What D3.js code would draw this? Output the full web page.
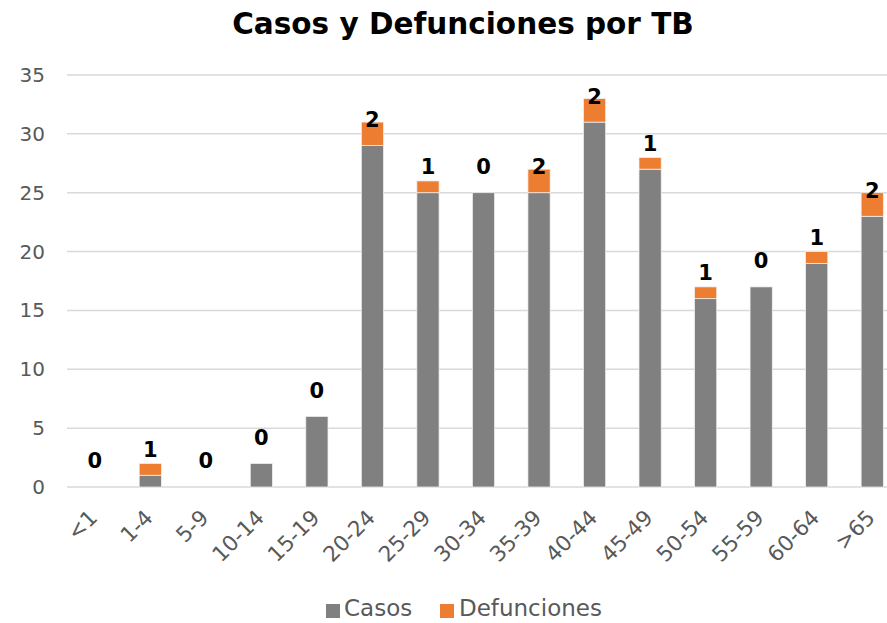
<!DOCTYPE html>
<html>
<head>
<meta charset="utf-8">
<script src="https://cdn.jsdelivr.net/npm/d3@7"></script>
<style>
  body { margin: 0; background: #fff; }
  svg text { font-family: "DejaVu Sans", "Open Sans", sans-serif; }
</style>
</head>
<body>
<svg id="chart"></svg>
<script>
'use strict';
var categories = ['<1', '1-4', '5-9', '10-14', '15-19', '20-24', '25-29', '30-34',
                  '35-39', '40-44', '45-49', '50-54', '55-59', '60-64', '>65'];
var casos = [0, 1, 0, 2, 6, 29, 25, 25, 25, 31, 27, 16, 17, 19, 23];
var defunciones = [0, 1, 0, 0, 0, 2, 1, 0, 2, 2, 1, 1, 0, 1, 2];
var yTicks = [0, 5, 10, 15, 20, 25, 30, 35];
var seriesNames = ['Casos', 'Defunciones'];
var colors = ['#808080', '#ED7D31'];

var width = 887, height = 623;
var svg = d3.select('#chart').attr('width', width).attr('height', height);

var x = d3.scaleBand()
    .domain(categories)
    .range([67, 900])
    .paddingInner(0.6)
    .paddingOuter(0.3);
var y = d3.scaleLinear().domain([0, 35]).range([487, 75]);

// title
svg.append('text')
    .attr('x', 463).attr('y', 34)
    .attr('text-anchor', 'middle')
    .attr('font-size', 29.5)
    .attr('font-weight', 700)
    .attr('fill', '#000')
    .text('Casos y Defunciones por TB');

// gridlines + y labels
svg.selectAll('.grid')
    .data(yTicks)
    .enter()
    .append('line')
    .attr('x1', 67).attr('x2', width)
    .attr('y1', function(d){ return y(d); })
    .attr('y2', function(d){ return y(d); })
    .attr('stroke', '#d9d9d9')
    .attr('stroke-width', 1.5);

svg.selectAll('.ylab')
    .data(yTicks)
    .enter()
    .append('text')
    .attr('x', 45)
    .attr('y', function(d){ return y(d); })
    .attr('dy', '0.35em')
    .attr('text-anchor', 'end')
    .attr('font-size', 20)
    .attr('fill', '#595959')
    .text(function(d){ return d; });

// stacked bars
var rows = categories.map(function(c, i){
    return {cat: c, Casos: casos[i], Defunciones: defunciones[i]};
});
var stack = d3.stack().keys(seriesNames)(rows);

svg.selectAll('.series')
    .data(stack)
    .enter()
    .append('g')
    .attr('fill', function(d, i){ return colors[i]; })
    .selectAll('rect')
    .data(function(d){ return d; })
    .enter()
    .append('rect')
    .filter(function(d){ return d[1] > d[0]; })
    .attr('x', function(d){ return x(d.data.cat); })
    .attr('width', x.bandwidth())
    .attr('y', function(d){ return y(d[1]); })
    .attr('height', function(d){ return y(d[0]) - y(d[1]); })
    .attr('stroke', '#f2f2f2')
    .attr('stroke-width', 0.75);

// data labels (defunciones), placed above the casos bar
svg.selectAll('.dlab')
    .data(rows)
    .enter()
    .append('text')
    .attr('x', function(d){ return x(d.cat) + x.bandwidth() / 2; })
    .attr('y', function(d){ return y(d.Casos + 2.2); })
    .attr('dy', '0.35em')
    .attr('text-anchor', 'middle')
    .attr('font-size', 21)
    .attr('font-weight', 700)
    .attr('fill', '#000')
    .text(function(d){ return d.Defunciones; });

// x labels
svg.selectAll('.xlab')
    .data(categories)
    .enter()
    .append('text')
    .attr('transform', function(d){
        return 'translate(' + (x(d) + x.bandwidth() / 2 + 4) + ',519) rotate(-45)';
    })
    .attr('text-anchor', 'end')
    .attr('font-size', 21.5)
    .attr('fill', '#595959')
    .text(function(d){ return d; });

// legend
var legend = [{name: 'Casos', x: 326, tx: 344}, {name: 'Defunciones', x: 440, tx: 459}];
legend.forEach(function(l, i){
    svg.append('rect')
        .attr('x', l.x).attr('y', 604)
        .attr('width', 14).attr('height', 14)
        .attr('fill', colors[i]);
    svg.append('text')
        .attr('x', l.tx).attr('y', 616)
        .attr('font-size', 23)
        .attr('fill', '#595959')
        .text(l.name);
});
</script>
</body>
</html>
